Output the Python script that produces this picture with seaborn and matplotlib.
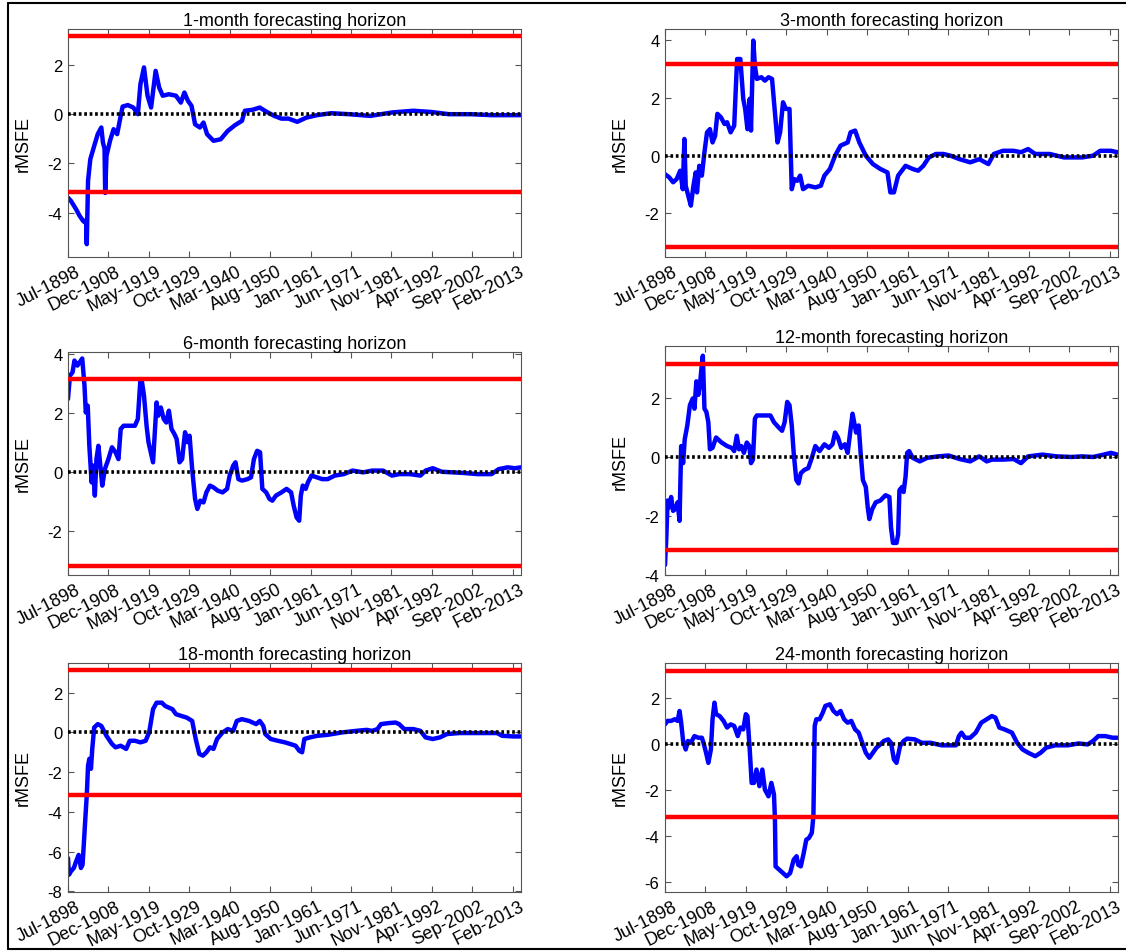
import numpy as np
import pandas as pd
import matplotlib
matplotlib.use("Agg")
import matplotlib.pyplot as plt
import seaborn as sns
from matplotlib.lines import Line2D
from matplotlib.transforms import ScaledTranslation

# ---------------- data (month index since Jul-1898, rMSFE) ----------------
tick_labels = ["Jul-1898", "Dec-1908", "May-1919", "Oct-1929", "Mar-1940", "Aug-1950",
               "Jan-1961", "Jun-1971", "Nov-1981", "Apr-1992", "Sep-2002", "Feb-2013"]
tick_months = [0, 125, 250, 375, 500, 625, 750, 875, 1000, 1125, 1250, 1375]
titles = ["1-month forecasting horizon", "3-month forecasting horizon",
          "6-month forecasting horizon", "12-month forecasting horizon",
          "18-month forecasting horizon", "24-month forecasting horizon"]
critical_value = 3.16

h1_m = [0,9,25,36,47,53,56,58,62,69,81,92,103,108,113,115,119,130,141,152,163,169,185,202,216,224,235,246,257,271,
        282,293,312,334,349,360,371,382,393,408,419,430,450,472,494,516,538,547,571,593,615,638,660,682,709,737,770,
        814,869,935,1002,1068,1123,1178,1244,1310,1399]
h1_v = [-3.39,-3.52,-3.86,-4.13,-4.34,-4.4,-4.3,-5.28,-2.7,-1.83,-1.29,-0.81,-0.54,-1.15,-1.4,-3.2,-1.69,-1.08,-0.61,
        -0.81,-0.07,0.31,0.37,0.27,0.0,1.22,1.9,0.75,0.27,1.76,1.08,0.75,0.81,0.75,0.47,0.88,0.54,0.34,-0.41,-0.54,
        -0.34,-0.81,-1.08,-1.02,-0.68,-0.45,-0.27,0.14,0.18,0.27,0.09,-0.07,-0.18,-0.18,-0.31,-0.14,-0.04,0.04,0.0,
        -0.07,0.07,0.14,0.09,0.0,0.0,-0.04,-0.04]

h3_m = [0,13,25,36,47,55,60,64,72,80,88,95,99,106,114,122,130,139,147,155,162,173,184,192,203,214,223,233,242,248,
        255,262,266,273,278,284,298,309,320,331,339,348,356,365,374,385,392,400,409,418,427,443,465,482,493,510,526,
        543,565,574,588,601,621,643,666,688,697,708,721,744,766,783,799,816,838,861,883,911,944,972,1000,1017,1045,
        1078,1101,1123,1145,1190,1234,1290,1324,1346,1379,1399]
h3_v = [-0.64,-0.75,-0.92,-0.81,-0.52,-1.16,0.58,-1.04,-1.39,-1.73,-1.04,-0.58,-1.27,-0.35,-0.69,0.12,0.81,0.92,0.46,
        0.69,1.45,1.33,1.1,1.16,0.81,1.04,3.35,3.35,1.97,1.62,0.92,1.97,0.87,3.99,3.12,2.66,2.72,2.6,2.72,2.66,1.62,
        0.46,0.81,1.85,1.62,1.62,-1.16,-0.81,-0.87,-0.69,-1.16,-1.04,-1.1,-1.04,-0.69,-0.46,0.0,0.35,0.46,0.81,0.87,
        0.46,0.0,-0.29,-0.46,-0.58,-1.27,-1.27,-0.69,-0.35,-0.46,-0.52,-0.35,-0.06,0.06,0.06,0.0,-0.12,-0.23,-0.12,
        -0.29,0.06,0.17,0.17,0.12,0.23,0.06,0.06,-0.06,-0.06,0.0,0.17,0.17,0.12]

h6_m = [0,6,14,20,29,36,44,51,55,61,66,73,77,83,88,94,99,106,114,125,136,147,156,163,172,183,196,207,216,224,229,235,
        243,249,263,274,279,287,296,304,312,320,329,336,345,353,362,370,376,384,393,400,409,419,428,439,450,463,478,
        492,500,511,518,527,538,555,566,575,585,594,601,613,623,632,643,660,676,690,698,707,715,720,726,735,742,753,
        770,786,803,825,853,880,913,941,974,1002,1024,1057,1090,1106,1128,1156,1189,1222,1266,1310,1332,1360,1382,1401]
h6_v = [2.49,3.28,3.39,3.79,3.62,3.73,3.86,2.94,2.03,2.26,0.9,-0.34,0.23,-0.79,0.45,0.9,0.34,-0.45,0.11,0.45,0.85,
        0.68,0.45,1.47,1.58,1.58,1.58,1.58,1.81,3.16,3.05,2.6,1.58,1.02,0.34,2.37,1.92,2.2,1.81,1.69,2.09,1.47,1.3,
        1.13,0.34,0.45,1.36,1.02,1.24,0.11,-0.9,-1.24,-0.96,-1.02,-0.68,-0.45,-0.51,-0.62,-0.68,-0.56,-0.11,0.23,0.34,
        -0.23,-0.28,-0.23,-0.17,0.45,0.73,0.68,-0.56,-0.68,-0.9,-0.96,-0.79,-0.68,-0.56,-0.68,-1.13,-1.53,-1.64,-0.79,
        -0.45,-0.56,-0.34,-0.11,-0.17,-0.23,-0.23,-0.11,-0.06,0.06,0.0,0.06,0.06,-0.11,-0.06,-0.06,-0.11,0.06,0.14,
        0.02,0.0,-0.02,-0.06,-0.06,0.11,0.17,0.14,0.17]

h12_m = [0,4,8,13,19,25,32,39,45,50,56,61,69,77,86,91,97,103,108,114,117,122,128,134,139,147,158,175,192,206,214,
         222,229,236,244,253,261,266,272,278,284,298,311,326,337,351,362,370,378,385,392,398,406,413,420,431,443,454,
         465,478,493,507,518,526,535,545,556,565,574,580,585,591,599,605,612,621,627,632,641,652,666,682,694,699,705,
         716,721,725,733,738,744,749,755,766,788,811,844,877,911,944,972,995,1011,1045,1078,1101,1123,1167,1212,1257,
         1290,1324,1357,1379,1399]
h12_v = [-3.66,-2.74,-1.47,-1.7,-1.35,-1.82,-1.76,-1.53,-2.16,0.38,-0.2,0.61,1.08,1.77,2.0,1.65,2.58,2.12,2.46,3.16,
         3.45,1.65,1.54,1.19,0.27,0.32,0.67,0.5,0.38,0.32,0.21,0.73,0.27,0.38,0.15,0.5,0.38,-0.2,-0.08,1.31,1.42,1.42,
         1.42,1.42,1.19,1.02,0.9,1.19,1.88,1.77,1.08,0.15,-0.77,-0.89,-0.54,-0.43,-0.37,-0.02,0.38,0.21,0.44,0.32,
         0.44,0.84,0.67,0.32,0.44,0.15,0.96,1.48,1.19,0.84,1.08,0.15,-0.77,-1.01,-1.7,-2.1,-1.76,-1.53,-1.47,-1.29,
         -1.35,-2.39,-2.91,-2.91,-2.62,-1.12,-1.01,-1.18,-0.66,0.15,0.21,-0.02,-0.14,-0.02,0.03,0.06,-0.06,-0.14,0.03,
         -0.14,-0.08,-0.08,-0.06,-0.2,0.03,0.09,0.03,0.01,0.03,0.01,0.09,0.15,0.09]

h18_m = [0,3,9,18,25,33,40,45,50,53,58,62,66,71,75,81,92,103,119,136,147,163,180,191,207,224,240,251,263,274,290,301,
         312,323,334,351,367,384,395,406,417,428,439,450,461,478,494,511,522,538,560,582,593,604,610,627,649,671,687,
         704,715,724,731,748,770,803,847,891,924,941,957,968,991,1013,1024,1040,1068,1090,1106,1128,1150,1172,1211,
         1266,1327,1343,1377,1401]
h18_v = [-6.33,-7.17,-7.0,-6.83,-6.5,-6.17,-6.83,-6.67,-5.33,-4.5,-3.17,-1.67,-1.33,-1.83,-0.83,0.25,0.42,0.33,-0.17,
         -0.58,-0.75,-0.67,-0.83,-0.42,-0.42,-0.5,-0.42,0.0,1.17,1.5,1.5,1.33,1.25,1.17,0.92,0.83,0.75,0.58,-0.33,
         -1.08,-1.17,-1.0,-0.75,-0.83,-0.33,0.0,0.17,0.08,0.58,0.67,0.58,0.42,0.58,0.33,-0.08,-0.33,-0.42,-0.5,-0.58,
         -0.67,-0.92,-1.0,-0.33,-0.25,-0.17,-0.12,0.0,0.08,0.13,0.08,0.17,0.42,0.47,0.5,0.42,0.17,0.17,0.08,-0.25,
         -0.33,-0.25,-0.08,-0.03,-0.03,-0.03,-0.17,-0.2,-0.2]

h24_m = [0,8,19,30,39,45,50,56,64,71,80,91,103,114,119,127,134,142,147,153,158,169,181,192,203,214,225,233,242,250,
         255,262,268,275,283,292,301,309,320,329,337,340,342,353,365,376,387,398,407,412,420,429,437,445,454,459,463,
         468,478,488,496,510,521,532,543,554,565,576,588,599,610,621,632,643,654,666,677,690,699,708,716,727,738,749,
         772,794,822,855,883,900,909,917,928,944,961,978,995,1011,1022,1034,1050,1073,1089,1106,1123,1145,1162,1179,
         1207,1246,1279,1307,1324,1340,1362,1384,1399]
h24_v = [0.84,0.99,0.99,1.06,0.99,1.42,0.91,0.12,-0.25,0.12,0.04,0.33,0.26,0.26,0.04,-0.39,-0.83,-0.25,1.06,1.78,1.28,
         1.2,0.99,0.7,0.84,0.77,0.33,0.7,0.62,1.28,1.2,-0.25,-1.7,-1.7,-1.12,-1.84,-1.12,-1.99,-2.28,-1.7,-2.2,-3.26,
         -5.32,-5.46,-5.61,-5.75,-5.61,-5.03,-4.88,-5.25,-5.32,-4.74,-4.16,-4.09,-3.87,-3.14,0.77,1.06,1.06,1.35,1.64,
         1.71,1.42,1.28,1.42,1.06,0.91,0.99,0.62,0.48,0.04,-0.39,-0.61,-0.39,-0.17,-0.03,0.12,0.19,0.04,-0.68,-0.83,
         -0.1,0.12,0.22,0.19,0.04,0.04,-0.07,-0.07,-0.07,0.33,0.48,0.26,0.26,0.48,0.91,1.06,1.2,1.13,0.7,0.62,0.48,
         0.04,-0.25,-0.39,-0.54,-0.39,-0.17,-0.07,-0.07,0.01,-0.03,0.12,0.33,0.33,0.26,0.26]

series = [(h1_m, h1_v), (h3_m, h3_v), (h6_m, h6_v), (h12_m, h12_v), (h18_m, h18_v), (h24_m, h24_v)]
yticks = [[-4, -2, 0, 2], [-2, 0, 2, 4], [-2, 0, 2, 4], [-4, -2, 0, 2], [-8, -6, -4, -2, 0, 2], [-6, -4, -2, 0, 2]]
ylims = [(-5.8, 3.46), (-3.51, 4.39), (-3.48, 4.08), (-4.0, 3.78), (-8.04, 3.5), (-6.43, 3.5)]
# axes boxes in pixels: left, top, right, bottom
boxes = [(68, 30, 521, 258), (665, 30, 1118, 258),
         (68, 353, 521, 576), (665, 347, 1118, 576),
         (68, 664, 521, 893), (665, 664, 1118, 893)]

# ---------------- styling ----------------
sns.set_theme(style="white")
plt.rcParams["font.family"] = ["Liberation Sans", "DejaVu Sans"]

W, H = 1126, 953
fig = plt.figure(figsize=(W / 100, H / 100), dpi=100)
fig.patch.set_facecolor("white")

spine_col = "#555555"
shift = ScaledTranslation(7 / 100, 0, fig.dpi_scale_trans)
for i, ((m, v), box) in enumerate(zip(series, boxes)):
    l, t, r, b = box
    ax = fig.add_axes([l / W, 1 - b / H, (r - l) / W, (b - t) / H])
    ax.set_facecolor("white")
    df = pd.DataFrame({"month": m, "rMSFE": v})
    sns.lineplot(data=df, x="month", y="rMSFE", ax=ax, color="#0000ff", linewidth=3.2,
                 estimator=None, sort=False, legend=False, zorder=2)
    ax.axhline(critical_value, color="#ff0000", linewidth=3.2, zorder=3)
    ax.axhline(-critical_value, color="#ff0000", linewidth=3.2, zorder=3)
    ax.axhline(0, color="black", linewidth=2.6, linestyle=(0, (0.75, 0.75)), zorder=4)

    ax.set_xlim(0, 1401)
    ax.set_ylim(*ylims[i])
    ax.set_yticks(yticks[i])
    ax.set_yticklabels([str(y) for y in yticks[i]], fontsize=12)
    ax.set_xticks(tick_months)
    ax.set_xticklabels(tick_labels, rotation=27, ha="right", va="top",
                       rotation_mode="anchor", fontsize=13)
    ax.tick_params(axis="both", direction="in", length=4, width=0.8, color=spine_col,
                   top=True, right=True, bottom=True, left=True, labelcolor="black")
    ax.tick_params(axis="x", pad=4)
    ax.tick_params(axis="y", pad=4)
    for lab in ax.get_xticklabels():
        lab.set_transform(lab.get_transform() + shift)
    for s in ax.spines.values():
        s.set_visible(True)
        s.set_color(spine_col)
        s.set_linewidth(0.8)
    ax.set_title(titles[i], fontsize=13, pad=3, color="black")
    ax.set_xlabel("")
    ax.set_ylabel("rMSFE", fontsize=13, color="black")
    ax.yaxis.set_label_coords(-36 / (r - l), 0.5)

# outer frame (left, top, bottom)
fig.add_artist(Line2D([8 / W, 8 / W], [1 - 4 / H, 1 - 950 / H], transform=fig.transFigure, color="black", lw=1.5))
fig.add_artist(Line2D([8 / W, 1], [1 - 4 / H, 1 - 4 / H], transform=fig.transFigure, color="black", lw=1.5))
fig.add_artist(Line2D([8 / W, 1], [1 - 950 / H, 1 - 950 / H], transform=fig.transFigure, color="black", lw=1.5))

fig.savefig("out.png", dpi=100, facecolor="white")
